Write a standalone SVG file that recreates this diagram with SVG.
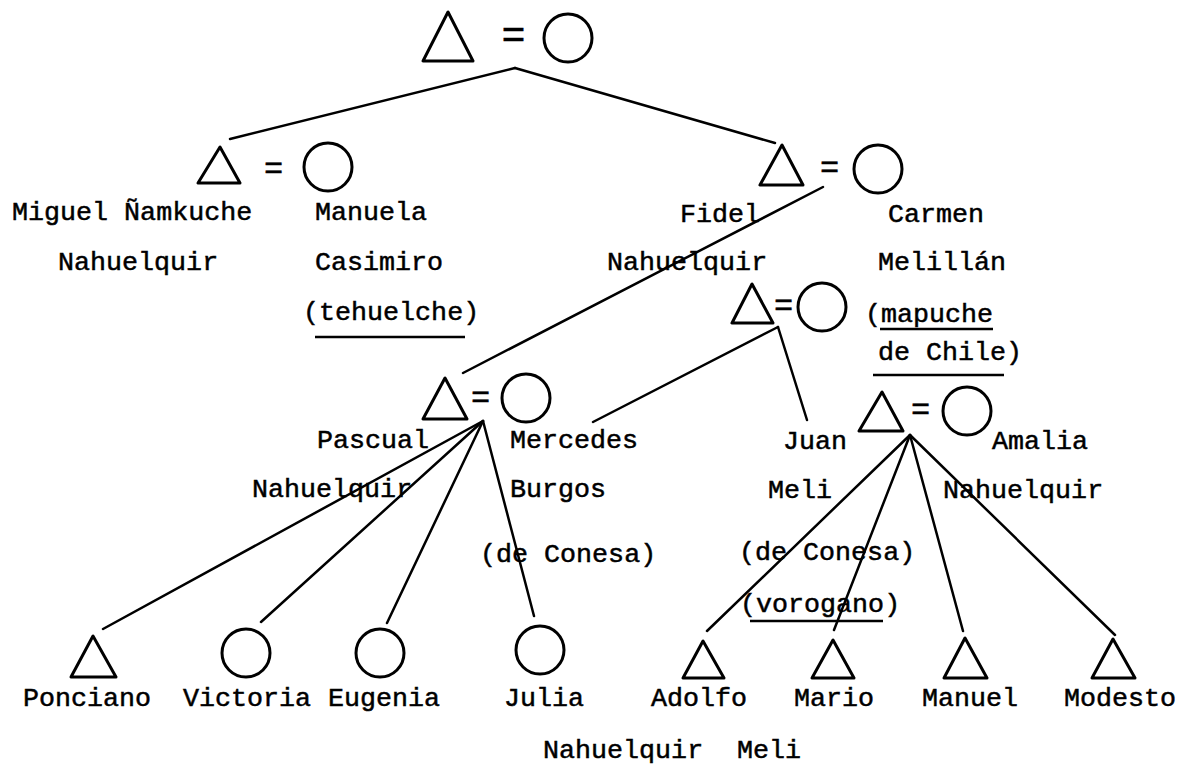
<svg xmlns="http://www.w3.org/2000/svg" width="1179" height="774" viewBox="0 0 1179 774">
<style>
.s{fill:none;stroke:#000;stroke-width:3;stroke-linejoin:round}
.c line{stroke:#000;stroke-width:2.5;stroke-linecap:round}
.u{stroke:#000;stroke-width:2.5}
text{font-family:"Liberation Mono","Courier New",monospace;font-size:26.7px;fill:#000;stroke:#000;stroke-width:0.5}
text.eq{font-size:32px;text-anchor:middle}
</style>
<rect width="1179" height="774" fill="#fff"/>
<g id="connectors" class="c">
<line x1="515" y1="68" x2="230" y2="139"/>
<line x1="515" y1="68" x2="775" y2="143"/>
<line x1="823" y1="187" x2="463" y2="373"/>
<line x1="778" y1="327" x2="593" y2="422"/>
<line x1="778" y1="327" x2="807" y2="420"/>
<line x1="483" y1="421" x2="103" y2="629"/>
<line x1="483" y1="421" x2="261" y2="622"/>
<line x1="483" y1="421" x2="387" y2="623"/>
<line x1="483" y1="421" x2="534" y2="616"/>
<line x1="910" y1="435" x2="707" y2="631"/>
<line x1="910" y1="435" x2="834" y2="630"/>
<line x1="910" y1="435" x2="963" y2="631"/>
<line x1="910" y1="435" x2="1115" y2="635"/>
</g>
<g id="top-couple">
<polygon class="s" points="448,12 423,61 473,61"/>
<text class="eq" x="513.5" y="48" style="font-size:40px">=</text>
<circle class="s" cx="568" cy="38" r="24"/>
</g>
<g id="miguel">
<polygon class="s" points="220,147 198,183 240,183"/>
<text x="12" y="220">Miguel Ñamkuche</text>
<text x="58" y="270">Nahuelquir</text>
</g>
<text class="eq" x="273.5" y="178">=</text>
<g id="manuela">
<circle class="s" cx="328" cy="167" r="24"/>
<text x="315" y="220">Manuela</text>
<text x="315" y="270">Casimiro</text>
<text x="303" y="320">(tehuelche)</text>
<line class="u" x1="315" y1="337" x2="465" y2="337"/>
</g>
<g id="fidel">
<polygon class="s" points="782,145 760,185 803,185"/>
<text x="680" y="222">Fidel</text>
<text x="607" y="270">Nahuelquir</text>
</g>
<text class="eq" x="829.5" y="177">=</text>
<g id="carmen">
<circle class="s" cx="878" cy="169" r="24"/>
<text x="888" y="222">Carmen</text>
<text x="878" y="270">Melillán</text>
<text x="865" y="322">(mapuche</text>
<line class="u" x1="880" y1="329" x2="993" y2="329"/>
<text x="878" y="360">de Chile)</text>
<line class="u" x1="873" y1="375" x2="1004" y2="375"/>
</g>
<g id="meli-couple">
<polygon class="s" points="752,284 732,323 773,323"/>
<text class="eq" x="783.5" y="315">=</text>
<circle class="s" cx="822" cy="307" r="24"/>
</g>
<g id="pascual">
<polygon class="s" points="445,378 423,419 467,419"/>
<text x="317" y="448">Pascual</text>
<text x="252" y="497">Nahuelquir</text>
</g>
<text class="eq" x="480.5" y="407">=</text>
<g id="mercedes">
<circle class="s" cx="526" cy="398" r="24"/>
<text x="510" y="448">Mercedes</text>
<text x="510" y="497">Burgos</text>
<text x="480" y="562">(de Conesa)</text>
</g>
<g id="juan">
<polygon class="s" points="882,392 859,431 903,431"/>
<text x="783" y="449">Juan</text>
<text x="768" y="498">Meli</text>
<text x="739" y="560">(de Conesa)</text>
<text x="740" y="612">(vorogano)</text>
<line class="u" x1="750" y1="621" x2="883" y2="621"/>
</g>
<text class="eq" x="920.5" y="419">=</text>
<g id="amalia">
<circle class="s" cx="967" cy="411" r="24"/>
<text x="992" y="449">Amalia</text>
<text x="943" y="498">Nahuelquir</text>
</g>
<g id="ponciano">
<polygon class="s" points="93,636 71,677 116,677"/>
<text x="23" y="706">Ponciano</text>
</g>
<g id="victoria">
<circle class="s" cx="246" cy="653" r="24"/>
<text x="183" y="706">Victoria</text>
</g>
<g id="eugenia">
<circle class="s" cx="380" cy="653" r="24"/>
<text x="328" y="706">Eugenia</text>
</g>
<g id="julia">
<circle class="s" cx="540" cy="650" r="24"/>
<text x="504" y="706">Julia</text>
</g>
<g id="adolfo">
<polygon class="s" points="703,641 683,678 724,678"/>
<text x="651" y="706">Adolfo</text>
</g>
<g id="mario">
<polygon class="s" points="833,640 812,678 854,678"/>
<text x="794" y="706">Mario</text>
</g>
<g id="manuel">
<polygon class="s" points="965,638 944,678 987,678"/>
<text x="922" y="706">Manuel</text>
</g>
<g id="modesto">
<polygon class="s" points="1113,639 1092,678 1135,678"/>
<text x="1064" y="706">Modesto</text>
</g>
<g id="surnames">
<text x="543" y="758">Nahuelquir</text>
<text x="737" y="758">Meli</text>
</g>
</svg>
